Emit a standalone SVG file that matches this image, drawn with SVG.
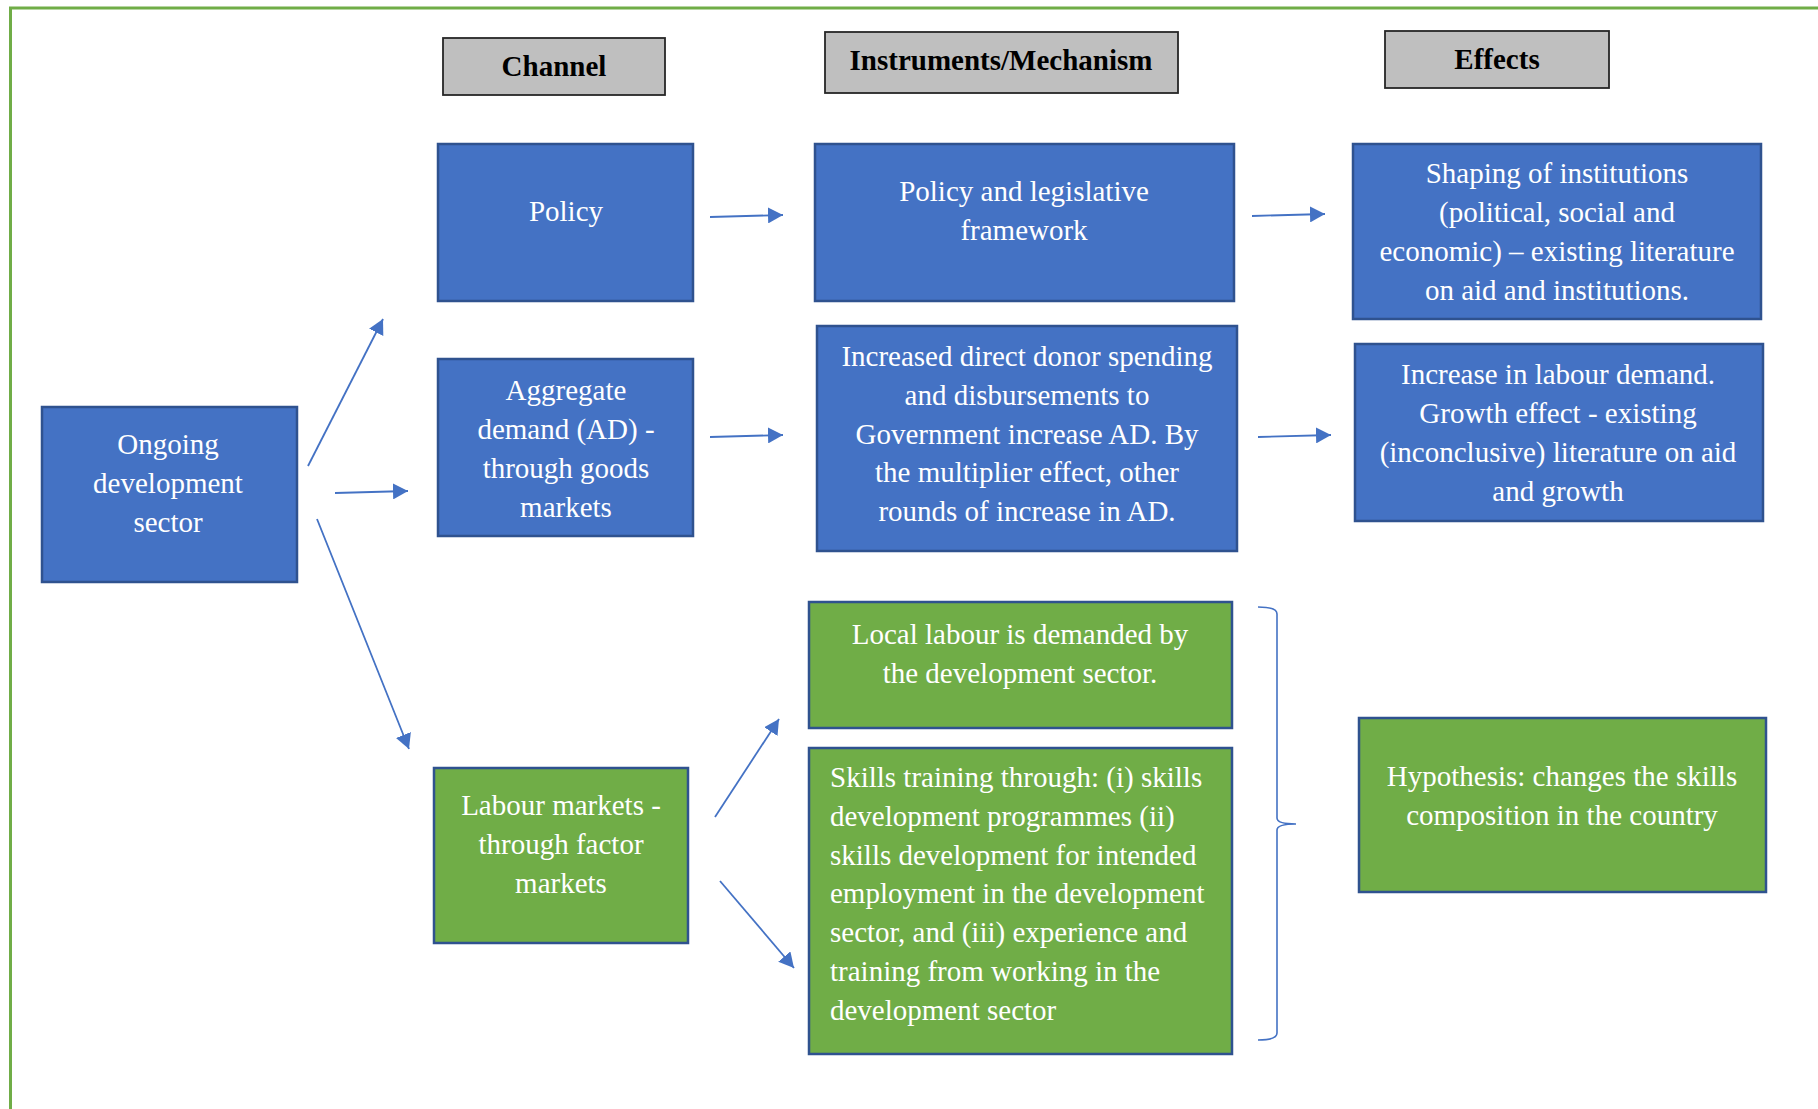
<svg xmlns="http://www.w3.org/2000/svg" width="1818" height="1109" viewBox="0 0 1818 1109">
  <style>
    .frame { fill: none; stroke: #70AD47; stroke-width: 3; }
    .head rect { fill: #BFBFBF; stroke: #262626; stroke-width: 1.8; }
    text { font-family: 'Liberation Serif', 'Times New Roman', Tinos, 'Nimbus Roman', 'DejaVu Serif', serif; }
    .head text { font-weight: bold; font-size: 29px; fill: #000; text-anchor: middle; }
    .blue rect { fill: #4472C4; stroke: #2F528F; stroke-width: 2.5; }
    .green rect { fill: #70AD47; stroke: #2F528F; stroke-width: 2.5; }
    .node text { font-size: 29px; fill: #FFFFFF; text-anchor: middle; }
    .node text.left { text-anchor: start; }
    .conn line { stroke: #4472C4; stroke-width: 1.8; marker-end: url(#arrow); }
    .brace { fill: none; stroke: #4472C4; stroke-width: 1.6; }
  </style>
  <defs>
    <marker id="arrow" viewBox="0 0 10 10" refX="10" refY="5" markerWidth="15" markerHeight="16" markerUnits="userSpaceOnUse" orient="auto" preserveAspectRatio="none">
      <path d="M0,0 L10,5 L0,10 z" fill="#4472C4"/>
    </marker>
  </defs>

  <rect width="1818" height="1109" fill="#FFFFFF"/>
  <rect class="frame" x="10.5" y="8" width="1830" height="1130"/>

  <!-- column headers -->
  <g id="hdr-channel" class="head">
    <rect x="443" y="38" width="222" height="57"/>
    <text x="554" y="76">Channel</text>
  </g>
  <g id="hdr-instruments" class="head">
    <rect x="825" y="32" width="353" height="61"/>
    <text x="1001" y="70">Instruments/Mechanism</text>
  </g>
  <g id="hdr-effects" class="head">
    <rect x="1385" y="31" width="224" height="57"/>
    <text x="1497" y="69">Effects</text>
  </g>

  <!-- source -->
  <g id="ongoing" class="node blue">
    <rect x="42" y="407" width="255" height="175"/>
    <text x="168" y="454">Ongoing</text>
    <text x="168" y="493">development</text>
    <text x="168" y="532">sector</text>
  </g>

  <!-- channels -->
  <g id="policy" class="node blue">
    <rect x="438" y="144" width="255" height="157"/>
    <text x="566" y="221">Policy</text>
  </g>
  <g id="aggregate-demand" class="node blue">
    <rect x="438" y="359" width="255" height="177"/>
    <text x="566" y="400">Aggregate</text>
    <text x="566" y="439">demand (AD) -</text>
    <text x="566" y="478">through goods</text>
    <text x="566" y="517">markets</text>
  </g>
  <g id="labour-markets" class="node green">
    <rect x="434" y="768" width="254" height="175"/>
    <text x="561" y="815">Labour markets -</text>
    <text x="561" y="854">through factor</text>
    <text x="561" y="893">markets</text>
  </g>

  <!-- instruments -->
  <g id="legislative" class="node blue">
    <rect x="815" y="144" width="419" height="157"/>
    <text x="1024" y="201">Policy and legislative</text>
    <text x="1024" y="240">framework</text>
  </g>
  <g id="donor-spending" class="node blue">
    <rect x="817" y="326" width="420" height="225"/>
    <text x="1027" y="366">Increased direct donor spending</text>
    <text x="1027" y="405">and disbursements to</text>
    <text x="1027" y="444">Government increase AD. By</text>
    <text x="1027" y="482">the multiplier effect, other</text>
    <text x="1027" y="521">rounds of increase in AD.</text>
  </g>
  <g id="local-labour" class="node green">
    <rect x="809" y="602" width="423" height="126"/>
    <text x="1020" y="644">Local labour is demanded by</text>
    <text x="1020" y="683">the development sector.</text>
  </g>
  <g id="skills-training" class="node green">
    <rect x="809" y="748" width="423" height="306"/>
    <text class="left" x="830" y="787">Skills training through: (i) skills</text>
    <text class="left" x="830" y="826">development programmes (ii)</text>
    <text class="left" x="830" y="865">skills development for intended</text>
    <text class="left" x="830" y="903">employment in the development</text>
    <text class="left" x="830" y="942">sector, and (iii) experience and</text>
    <text class="left" x="830" y="981">training from working in the</text>
    <text class="left" x="830" y="1020">development sector</text>
  </g>

  <!-- effects -->
  <g id="institutions" class="node blue">
    <rect x="1353" y="144" width="408" height="175"/>
    <text x="1557" y="183">Shaping of institutions</text>
    <text x="1557" y="222">(political, social and</text>
    <text x="1557" y="261">economic) – existing literature</text>
    <text x="1557" y="300">on aid and institutions.</text>
  </g>
  <g id="labour-demand" class="node blue">
    <rect x="1355" y="344" width="408" height="177"/>
    <text x="1558" y="384">Increase in labour demand.</text>
    <text x="1558" y="423">Growth effect - existing</text>
    <text x="1558" y="462">(inconclusive) literature on aid</text>
    <text x="1558" y="501">and growth</text>
  </g>
  <g id="hypothesis" class="node green">
    <rect x="1359" y="718" width="407" height="174"/>
    <text x="1562" y="786">Hypothesis: changes the skills</text>
    <text x="1562" y="825">composition in the country</text>
  </g>

  <!-- connectors -->
  <g id="connectors" class="conn">
    <line x1="308" y1="466" x2="383" y2="319"/>
    <line x1="335" y1="493" x2="408" y2="491"/>
    <line x1="317" y1="519" x2="409" y2="749"/>
    <line x1="710" y1="217" x2="783" y2="215"/>
    <line x1="1252" y1="216" x2="1325" y2="214"/>
    <line x1="710" y1="437" x2="783" y2="435"/>
    <line x1="1258" y1="437" x2="1331" y2="435"/>
    <line x1="715" y1="817" x2="779" y2="719"/>
    <line x1="720" y1="881" x2="794" y2="968"/>
    <path class="brace" d="M1258,607 Q1277,607 1277,614 L1277,818 Q1277,824 1296,824 Q1277,824 1277,830 L1277,1033 Q1277,1040 1258,1040"/>
  </g>
</svg>
